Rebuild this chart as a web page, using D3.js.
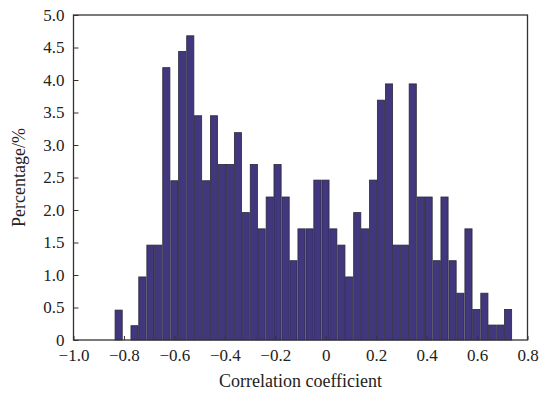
<!DOCTYPE html>
<html>
<head>
<meta charset="utf-8">
<script src="https://cdn.jsdelivr.net/npm/d3@7"></script>
<style>
  html, body { margin: 0; padding: 0; background: #fff; }
  svg { display: block; }
  text { font-family: "Liberation Serif", "Times New Roman", serif; fill: #222; }
</style>
</head>
<body>
<svg id="chart" width="542" height="393"></svg>
<script>
// bin centers of the histogram (correlation coefficient)
const binCenters = [
  -0.821, -0.790, -0.758, -0.727, -0.695, -0.664, -0.632, -0.600, -0.569, -0.537,
  -0.506, -0.474, -0.443, -0.411, -0.380, -0.348, -0.317, -0.285, -0.254, -0.222,
  -0.191, -0.159, -0.128, -0.096, -0.064, -0.033, -0.001, 0.030, 0.062, 0.093,
  0.125, 0.156, 0.188, 0.219, 0.251, 0.282, 0.314, 0.345, 0.377, 0.408,
  0.440, 0.471, 0.503, 0.534, 0.566, 0.597, 0.629, 0.660, 0.692, 0.723
];
const binWidth = 0.0315;

// percentage in each bin
const percentages = [
  0.46, 0, 0.22, 0.97, 1.46, 1.46, 4.19, 2.45, 4.44, 4.68,
  3.45, 2.45, 3.45, 2.70, 2.70, 3.19, 1.96, 2.70, 1.71, 2.20,
  2.70, 2.20, 1.22, 1.71, 1.71, 2.46, 2.46, 1.71, 1.46, 0.97,
  1.96, 1.71, 2.46, 3.69, 3.94, 1.46, 1.46, 3.94, 2.20, 2.20,
  1.22, 2.20, 1.22, 0.72, 1.71, 0.47, 0.72, 0.23, 0.23, 0.47
];

const xTicks = [-1.0, -0.8, -0.6, -0.4, -0.2, 0, 0.2, 0.4, 0.6, 0.8];
const yTicks = [0, 0.5, 1.0, 1.5, 2.0, 2.5, 3.0, 3.5, 4.0, 4.5, 5.0];

const margin = { top: 15, right: 14.5, bottom: 53, left: 73.5 };
const width = 542, height = 393;

const svg = d3.select('#chart');

const x = d3.scaleLinear()
  .domain([-1.0, 0.8])
  .range([margin.left, width - margin.right]);

const y = d3.scaleLinear()
  .domain([0, 5])
  .range([height - margin.bottom, margin.top]);

const fmt = d => d === 0 ? '0' : d3.format('.1f')(d);

// Bars
const data = binCenters.map((c, i) => ({ c, v: percentages[i] }));
svg.append('g')
  .selectAll('rect')
  .data(data.filter(d => d.v > 0))
  .enter().append('rect')
  .attr('x', d => x(d.c - binWidth / 2) + 0.4)
  .attr('y', d => y(d.v))
  .attr('width', d => x(d.c + binWidth / 2) - x(d.c - binWidth / 2) - 0.8)
  .attr('height', d => y(0) - y(d.v))
  .attr('fill', '#41377f')
  .attr('stroke', '#2b2838')
  .attr('stroke-width', 0.8);

// X Axis
const xAxis = svg.append('g')
  .attr('transform', `translate(0,${y(0)})`)
  .call(d3.axisBottom(x).tickValues(xTicks).tickFormat(fmt).tickSizeInner(-4).tickSizeOuter(0).tickPadding(9));
xAxis.select('.domain').remove();
xAxis.selectAll('line').attr('stroke', '#333');
xAxis.selectAll('text').attr('font-size', 17).attr('fill', '#222');

// Y Axis
const yAxis = svg.append('g')
  .attr('transform', `translate(${x(-1.0)},0)`)
  .call(d3.axisLeft(y).tickValues(yTicks).tickFormat(fmt).tickSizeInner(-5).tickSizeOuter(0).tickPadding(9));
yAxis.select('.domain').remove();
yAxis.selectAll('line').attr('stroke', '#333');
yAxis.selectAll('text').attr('font-size', 17).attr('fill', '#222');

// Frame
svg.append('rect')
  .attr('x', x(-1.0))
  .attr('y', y(5))
  .attr('width', x(0.8) - x(-1.0))
  .attr('height', y(0) - y(5))
  .attr('fill', 'none')
  .attr('stroke', '#333')
  .attr('stroke-width', 1.3);

// Axis titles
svg.append('text')
  .attr('x', (x(-1.0) + x(0.8)) / 2)
  .attr('y', 387)
  .attr('text-anchor', 'middle')
  .attr('font-size', 18)
  .text('Correlation coefficient');

svg.append('text')
  .attr('transform', `translate(25,${(y(0) + y(5)) / 2}) rotate(-90)`)
  .attr('text-anchor', 'middle')
  .attr('font-size', 18)
  .text('Percentage/%');
</script>
</body>
</html>
